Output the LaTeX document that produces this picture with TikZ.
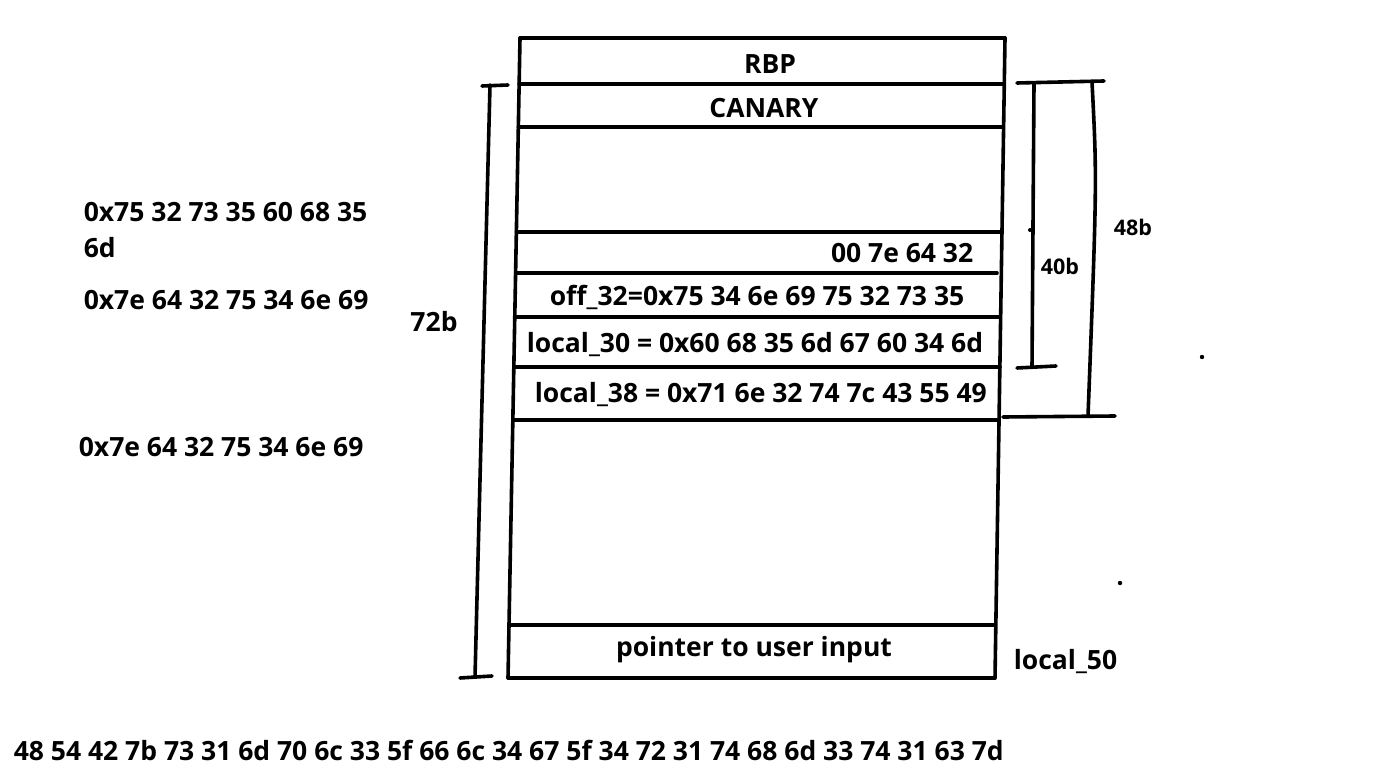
\documentclass[tikz,border=0pt]{standalone}
\usepackage{fontspec}
\setmainfont{Open Sans}
\usetikzlibrary{positioning}
\tikzset{
  hexlbl/.style={font=\bfseries\fontsize{26.5}{30}\selectfont,inner sep=0,anchor=west},
  sizelbl/.style={font=\bfseries\fontsize{21.5}{25}\selectfont,inner sep=0},
}
\begin{document}
\begin{tikzpicture}[x=1pt,y=-1pt,line width=3.6pt,line cap=round]
\useasboundingbox (0,0) rectangle (1375,783);
% stack frame, slightly skewed like a hand drawing
\draw (520,38) -- (508,678);
\draw (1005,38) -- (995,678);
\foreach \y/\r in {38/1005,84/1004,127/1003,232/1002,273/997,317/1000,367/1000,420/997,625/995,678/995} {
  \draw ({520-12*(\y-38)/640},\y) -- (\r,\y);
}
% cell contents
\node[hexlbl,anchor=center] (rbp) at (770,64) {RBP};
\node[hexlbl,anchor=center] (canary) at (764,108) {CANARY};
\node[hexlbl,anchor=east] (part) at (975,253) {00 7e 64 32};
\node[hexlbl] (off32) at (548,297) {off\_32=0x75 34 6e 69 75 32 73 35};
\node[hexlbl] (loc30) at (525,345) {local\_30 = 0x60 68 35 6d 67 60 34 6d};
\node[hexlbl] (loc38) at (533,395) {local\_38 = 0x71 6e 32 74 7c 43 55 49};
\node[hexlbl,anchor=center] (ptr) at (754,650) {pointer to user input};
\node[hexlbl] (loc50) at (1012,662) {local\_50};
% notes on the left
\node[hexlbl] (note1) at (82,212) {0x75 32 73 35 60 68 35};
\node[hexlbl] (note2) at (82,248) {6d};
\node[hexlbl] (note3) at (82,300) {0x7e 64 32 75 34 6e 69};
\node[hexlbl] (note4) at (77,447) {0x7e 64 32 75 34 6e 69};
\node[hexlbl] (flag) at (12,750) {48 54 42 7b 73 31 6d 70 6c 33 5f 66 6c 34 67 5f 34 72 31 74 68 6d 33 74 31 63 7d};
% 72b bracket
\coordinate (a1) at (490,85);
\coordinate (a2) at (475,677);
\draw (a1) -- (a2);
\draw (482,86) -- (508,85);
\draw (460,678) -- (492,676);
\node[hexlbl,anchor=center] (s72) at (434,322) {72b};
% 40b and 48b brackets
\draw (1017,83) -- (1104,81);
\coordinate (b1) at (1034,83);
\coordinate (b2) at (1032,367);
\draw (b1) -- (b2);
\draw (1017,368) -- (1056,366);
\node[sizelbl] (s40) at (1060,266) {40b};
\coordinate (c1) at (1092,82);
\coordinate (c2) at (1088,416);
\draw (c1) .. controls (1097,180) .. (c2);
\draw (1003,417) -- (1115,416);
\node[sizelbl] (s48) at (1133,227) {48b};
% stray dots
\fill (1030,230) circle (2pt);
\fill (1202,357) circle (2.2pt);
\fill (1120,583) circle (2.2pt);
\end{tikzpicture}
\end{document}
